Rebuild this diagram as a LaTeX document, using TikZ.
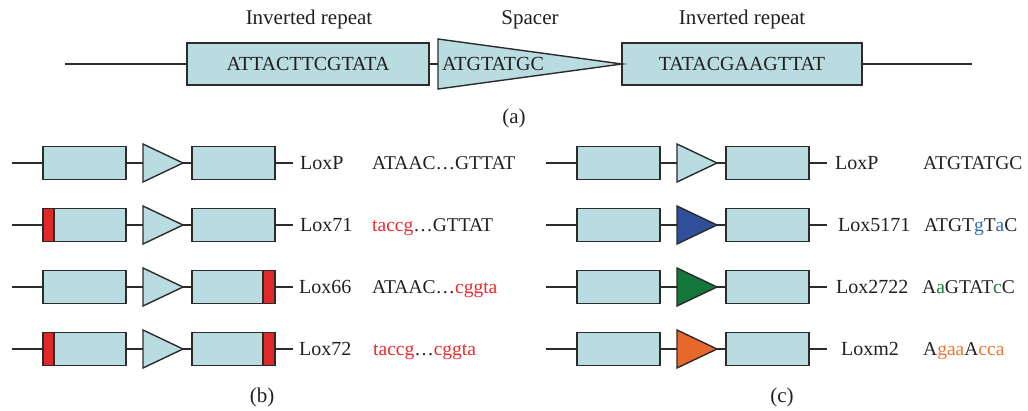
\documentclass[tikz,border=0pt]{standalone}
\usepackage{fontspec}
\setmainfont{Liberation Serif}
\definecolor{boxfill}{HTML}{B8DCE0}
\definecolor{redmark}{HTML}{E0282A}
\definecolor{redtext}{HTML}{EE2A2E}
\definecolor{bluetri}{HTML}{2F4F9B}
\definecolor{greentri}{HTML}{13773B}
\definecolor{orangetri}{HTML}{E8682C}
\definecolor{bluetext}{HTML}{2F6DB8}
\definecolor{greentext}{HTML}{1E7B3B}
\definecolor{orangetext}{HTML}{F07533}
\definecolor{ink}{HTML}{231F20}
\definecolor{edge}{HTML}{2B2B2B}
\tikzset{
  seg/.style={draw=edge, fill=boxfill, line width=1.4pt, rectangle, inner sep=0pt, outer sep=0pt},
  tribox/.style={rectangle, inner sep=0pt, outer sep=0pt},
  trishape/.style={draw=edge, line width=1.4pt, line join=miter},
  wire/.style={draw=edge, line width=1.3pt},
  txt/.style={text=ink, inner sep=0pt, font=\fontsize{20}{24}\selectfont},
  seqtxt/.style={text=ink, inner sep=0pt, font=\fontsize{19.5}{24}\selectfont},
  headtxt/.style={text=ink, inner sep=0pt, font=\fontsize{21}{25}\selectfont},
  redmarkbox/.style={draw=edge, fill=redmark, line width=1.4pt},
}
% #1 prefix, #2 x offset, #3 y, #4 triangle fill, #5 label, #6 label x, #7 sequence, #8 sequence x
\newcommand{\MakeLoxRow}[8]{%
  \coordinate (#1s) at (#2+12,#3);
  \coordinate (#1e) at (#2+293,#3);
  \node[seg, minimum width=83pt, minimum height=33pt] (#1l) at (#2+84.5,#3) {};
  \node[tribox, minimum width=40pt, minimum height=38pt] (#1t) at (#2+163,#3) {};
  \node[seg, minimum width=83pt, minimum height=33pt] (#1r) at (#2+233.5,#3) {};
  \filldraw[trishape, fill=#4] (#1t.north west) -- (#1t.east) -- (#1t.south west) -- cycle;
  \draw[wire] (#1s) -- (#1l.west);
  \draw[wire] (#1l.east) -- (#1t.west);
  \draw[wire] (#1t.east) -- (#1r.west);
  \draw[wire] (#1r.east) -- (#1e);
  \node[txt, anchor=base west] (#1n) at (#6,#3+6.5) {#5};
  \node[seqtxt, anchor=base west] (#1q) at (#8,#3+6.5) {#7};
}
\begin{document}
\begin{tikzpicture}[x=1pt,y=-1pt]
\useasboundingbox (0,0) rectangle (1028,410);

% ---------- panel (a)
\coordinate (as) at (65,64);
\coordinate (ae) at (972,64);
\node[seg, minimum width=242pt, minimum height=42pt] (al) at (308,64) {};
\node[tribox, minimum width=184pt, minimum height=50pt] (at) at (530,64) {};
\node[seg, minimum width=240pt, minimum height=42pt] (ar) at (742,64) {};
\filldraw[trishape, fill=boxfill] (at.north west) -- (at.east) -- (at.south west) -- cycle;
\draw[wire] (as) -- (al.west);
\draw[wire] (al.east) -- (at.west);
\draw[wire] (ar.east) -- (ae);
\node[txt] (alt) at (al.center) {ATTACTTCGTATA};
\node[txt, anchor=west] (att) at (442,64) {ATGTATGC};
\node[txt] (art) at (ar.center) {TATACGAAGTTAT};
\node[headtxt, anchor=base] (h1) at (309,24) {Inverted repeat};
\node[headtxt, anchor=base] (h2) at (530,24) {Spacer};
\node[headtxt, anchor=base] (h3) at (742,24) {Inverted repeat};
\node[headtxt, anchor=base] (capa) at (514,123) {(a)};

% ---------- panel (b)
\MakeLoxRow{ba}{0}{163}{boxfill}{LoxP}{300}{ATAAC\ldots GTTAT}{372}
\MakeLoxRow{bb}{0}{225}{boxfill}{Lox71}{300}{\textcolor{redtext}{taccg}\ldots GTTAT}{372}
\MakeLoxRow{bc}{0}{287}{boxfill}{Lox66}{299}{ATAAC\ldots\textcolor{redtext}{cggta}}{372}
\MakeLoxRow{bd}{0}{349}{boxfill}{Lox72}{299}{\textcolor{redtext}{taccg}\ldots\textcolor{redtext}{cggta}}{373}
\filldraw[redmarkbox] (bbl.north west) rectangle ([xshift=11pt]bbl.south west);
\filldraw[redmarkbox] ([xshift=-12pt]bcr.north east) rectangle (bcr.south east);
\filldraw[redmarkbox] (bdl.north west) rectangle ([xshift=11pt]bdl.south west);
\filldraw[redmarkbox] ([xshift=-12pt]bdr.north east) rectangle (bdr.south east);
\node[headtxt, anchor=base] (capb) at (262,402) {(b)};

% ---------- panel (c)
\MakeLoxRow{ca}{534}{163}{boxfill}{LoxP}{835}{ATGTATGC}{923}
\MakeLoxRow{cb}{534}{225}{bluetri}{Lox5171}{838}{ATGT\textcolor{bluetext}{g}T\textcolor{bluetext}{a}C}{924}
\MakeLoxRow{cc}{534}{287}{greentri}{Lox2722}{836}{A\textcolor{greentext}{a}GTAT\textcolor{greentext}{c}C}{922}
\MakeLoxRow{cd}{534}{349}{orangetri}{Loxm2}{841}{A\textcolor{orangetext}{gaa}A\textcolor{orangetext}{cca}}{923}
\node[headtxt, anchor=base] (capc) at (782,402) {(c)};
\end{tikzpicture}
\end{document}
